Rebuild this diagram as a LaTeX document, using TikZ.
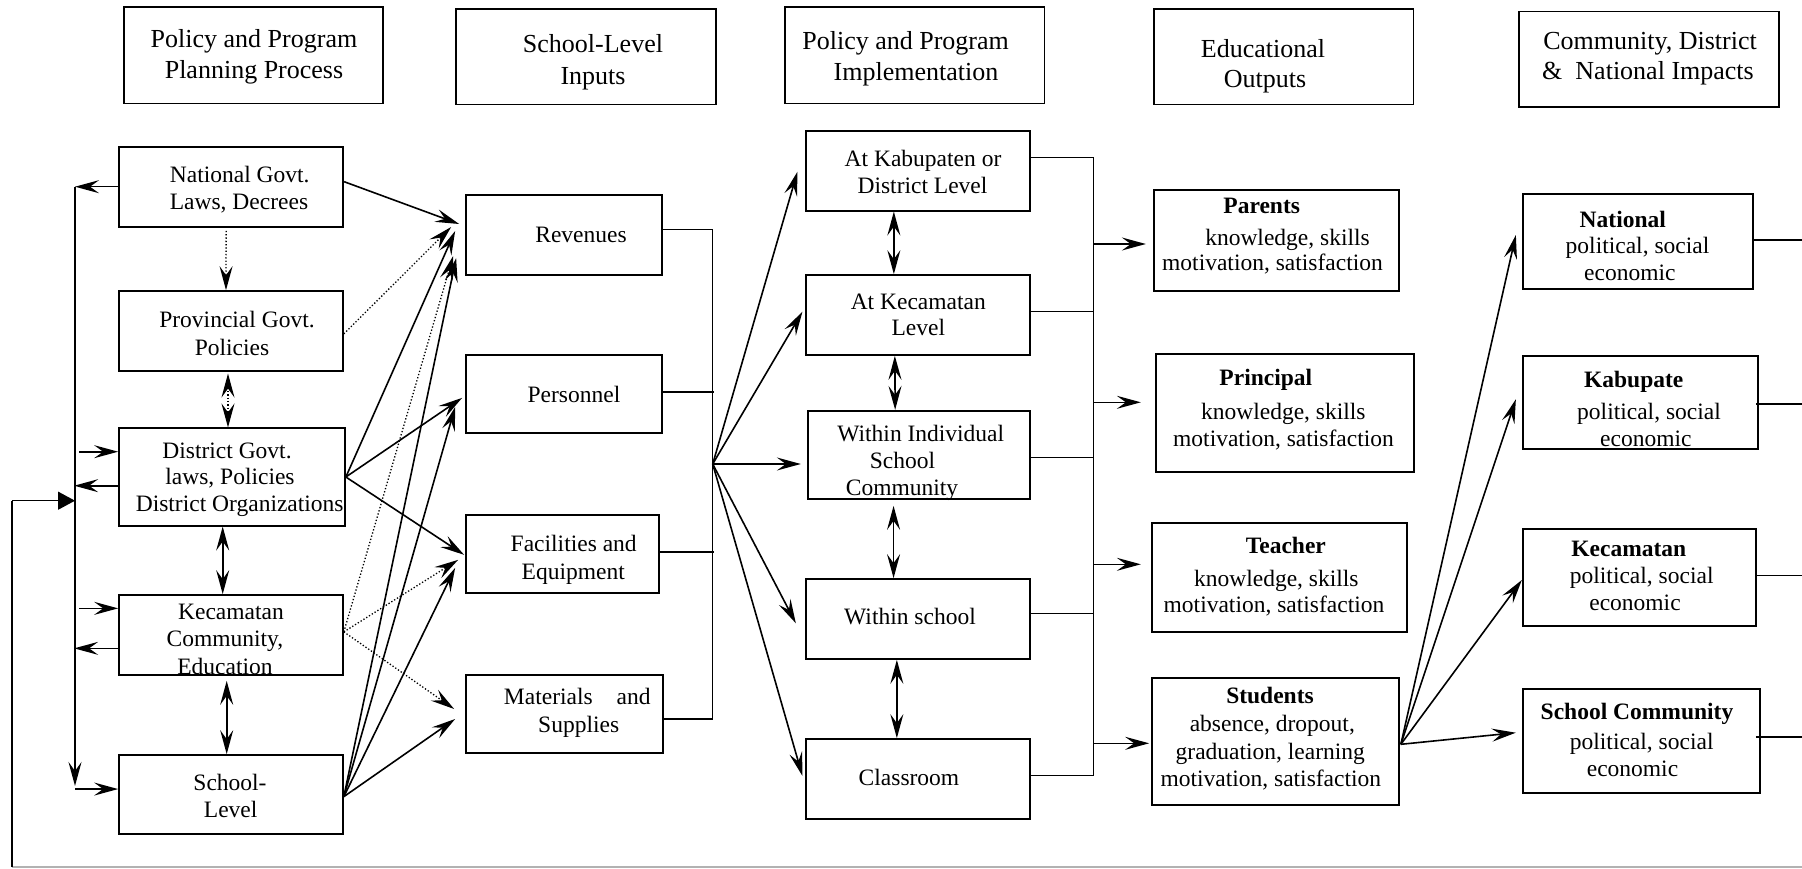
\documentclass[tikz,border=0pt]{standalone}
\usepackage{fontspec}
\setmainfont{Liberation Serif}
\usetikzlibrary{arrows.meta,fit,calc}
\newcommand\bodyfont{\fontsize{23.5}{27}\selectfont}
\newcommand\headfont{\fontsize{26}{31}\selectfont}

\begin{document}
\begin{tikzpicture}[x=1pt,y=-1pt,
  >={Stealth[length=24pt,width=13pt,inset=9pt]},
  box/.style={draw, line width=1.7pt, inner sep=0pt},
  ln/.style={anchor=base, inner sep=0pt, font=\bodyfont},
  hd/.style={anchor=base, inner sep=0pt, font=\headfont},
  arr/.style={line width=1.6pt, ->},
  darr/.style={line width=1.6pt, <->},
  dotarr/.style={dotted, line width=1.3pt, ->},
  bus/.style={line width=1.4pt},
  fb/.style={line width=1.4pt},
]
\useasboundingbox (0,0) rectangle (1802,869);

% ---------- column headings ----------
\node[box, fit={(124,7)(383,103.5)}] (h1) {};
\node[hd] (h1a) at (254,47.3) {Policy and Program};
\node[hd] (h1b) at (254,78.3) {Planning Process};
\node[box, fit={(456,9)(716,104.5)}] (h2) {};
\node[hd] (h2a) at (593,52.9) {School-Level};
\node[hd] (h2b) at (593,85) {Inputs};
\node[box, fit={(785,7)(1044.5,103.5)}] (h3) {};
\node[hd] (h3a) at (905.6,49.3) {Policy and Program};
\node[hd] (h3b) at (916,80.3) {Implementation};
\node[box, fit={(1154,9)(1413.5,104.5)}] (h4) {};
\node[hd] (h4a) at (1263,57.3) {Educational};
\node[hd] (h4b) at (1265,87.3) {Outputs};
\node[box, fit={(1519,11.5)(1779,107)}] (h5) {};
\node[hd] (h5a) at (1650,49.3) {Community, District};
\node[hd] (h5b) at (1648,79.3) {\&\ \ National Impacts};

% ---------- planning process ----------
\node[box, fit={(119,146.7)(343.3,226.7)}] (nat) {};
\node[ln] (nat1) at (239.7,183) {National Govt.};
\node[ln] (nat2) at (239,210) {Laws, Decrees};
\node[box, fit={(119,291)(343,370.7)}] (prov) {};
\node[ln] (prov1) at (237,327) {Provincial Govt.};
\node[ln] (prov2) at (232,355) {Policies};
\node[box, fit={(119,428.3)(345,525.7)}] (dist) {};
\node[ln] (dist1) at (227,458) {District Govt.};
\node[ln] (dist2) at (230,484.5) {laws, Policies};
\node[ln] (dist3) at (239.7,511.7) {District Organizations};
\node[box, fit={(119,595)(343,674.7)}] (kec) {};
\node[ln] (kec1) at (231,619) {Kecamatan};
\node[ln] (kec2) at (225,646.7) {Community,};
\node[ln] (kec3) at (225,674) {Education};
\node[box, fit={(119,755)(343,834.3)}] (sch) {};
\node[ln] (sch1) at (230,790) {School-};
\node[ln] (sch2) at (230.7,817) {Level};

% ---------- school-level inputs ----------
\node[box, fit={(466,195)(661.7,275)}] (rev) {};
\node[ln] (rev1) at (581,243) {Revenues};
\node[box, fit={(466,355)(661.7,432.7)}] (pers) {};
\node[ln] (pers1) at (574,402.7) {Personnel};
\node[box, fit={(466,515)(659,592.7)}] (fac) {};
\node[ln] (fac1) at (573.7,551.7) {Facilities and};
\node[ln] (fac2) at (573.3,579) {Equipment};
\node[box, fit={(466,674.7)(663.3,753.3)}] (mat) {};
\node[ln] (mat1) at (577.3,704) {Materials\hspace{24pt}and};
\node[ln] (mat2) at (578.7,732.3) {Supplies};

% ---------- implementation ----------
\node[box, fit={(805.7,131)(1030,210.7)}] (kab) {};
\node[ln] (kab1) at (923,166.7) {At Kabupaten or};
\node[ln] (kab2) at (922.5,193.3) {District Level};
\node[box, fit={(805.7,275)(1030,355)}] (kcl) {};
\node[ln] (kcl1) at (918.3,309) {At Kecamatan};
\node[ln] (kcl2) at (918.3,335) {Level};
\node[box, fit={(808.3,410.7)(1030,499)}] (win) {};
\node[ln] (win1) at (920.8,441.7) {Within Individual};
\node[ln] (win2) at (902.5,468.3) {School};
\node[ln] (win3) at (902,495) {Community};
\node[box, fit={(805.7,579)(1030,659)}] (wsc) {};
\node[ln] (wsc1) at (910,624) {Within school};
\node[box, fit={(805.7,739)(1030,819)}] (cls) {};
\node[ln] (cls1) at (909,785) {Classroom};

% ---------- educational outputs ----------
\node[box, fit={(1154,190)(1399.3,290.7)}] (par) {};
\node[ln] (par1) at (1261.7,213.3) {\textbf{Parents}};
\node[ln] (par2) at (1287.5,245) {knowledge, skills};
\node[ln] (par3) at (1272.5,270) {motivation, satisfaction};
\node[box, fit={(1156,354)(1414,472.3)}] (pri) {};
\node[ln] (pri1) at (1265.8,385) {\textbf{Principal}};
\node[ln] (pri2) at (1283.3,419.3) {knowledge, skills};
\node[ln] (pri3) at (1283.5,446) {motivation, satisfaction};
\node[box, fit={(1151.7,522.7)(1407.3,632.3)}] (tea) {};
\node[ln] (tea1) at (1285.8,553.3) {\textbf{Teacher}};
\node[ln] (tea2) at (1276.3,586) {knowledge, skills};
\node[ln] (tea3) at (1274,612.7) {motivation, satisfaction};
\node[box, fit={(1151.7,678.3)(1399.3,805)}] (stu) {};
\node[ln] (stu1) at (1270,703.3) {\textbf{Students}};
\node[ln] (stu2) at (1272.3,731) {absence, dropout,};
\node[ln] (stu3) at (1270.3,759.3) {graduation, learning};
\node[ln] (stu4) at (1270.8,786) {motivation, satisfaction};

% ---------- impacts ----------
\node[box, fit={(1522.7,194.3)(1753.3,289)}] (nal) {};
\node[ln] (nal1) at (1622.8,227.7) {\textbf{National}};
\node[ln] (nal2) at (1637.5,254) {political, social};
\node[ln] (nal3) at (1629.8,280.7) {economic};
\node[box, fit={(1522.7,356)(1758.3,449)}] (kbp) {};
\node[ln] (kbp1) at (1633.7,387.7) {\textbf{Kabupate}};
\node[ln] (kbp2) at (1649,419.3) {political, social};
\node[ln] (kbp3) at (1645.8,446.7) {economic};
\node[box, fit={(1522.7,529)(1756,626)}] (kcm) {};
\node[ln] (kcm1) at (1628.8,556.7) {\textbf{Kecamatan}};
\node[ln] (kcm2) at (1641.7,583.3) {political, social};
\node[ln] (kcm3) at (1635,610) {economic};
\node[box, fit={(1522.7,689)(1760,792.7)}] (scm) {};
\node[ln] (scm1) at (1637,719) {\textbf{School Community}};
\node[ln] (scm2) at (1641.7,749.3) {political, social};
\node[ln] (scm3) at (1632.5,776.7) {economic};

% ---------- left feedback bus ----------
\coordinate (busT) at (75,186.7);
\coordinate (busB) at (75,786);
\coordinate (fbL) at (12,500.7);
\coordinate (fbC) at (12,867);
\coordinate (fbR) at (1802,867);
\draw[arr] (nat.west) -- (busT);
\draw[arr] (busT) -- (busB);
\draw[arr] ($(dist.west)+(-39,-25.3)$) -- ($(dist.west)+(0,-25.3)$);
\draw[arr] ($(dist.west)+(0,8.7)$) -- ($(dist.west)+(-44,8.7)$);
\draw[arr] ($(kec.west)+(-39,-26.5)$) -- ($(kec.west)+(0,-26.5)$);
\draw[arr] ($(kec.west)+(0,13.5)$) -- ($(kec.west)+(-44,13.5)$);
\draw[arr] ($(sch.west)+(-43,-5.6)$) -- ($(sch.west)+(0,-5.6)$);
\draw[fb, gray!60] (fbR) -- (fbC);
\draw[fb] (fbC) -- (fbL);
\draw[fb, -{Triangle[length=17pt,width=18pt]}] (fbL) -- (busT |- fbL);

% ---------- links inside the planning column ----------
\draw[dotarr] ($(nat.south)+(-5,3.3)$) -- ($(prov.north)+(-5,0)$);
\draw[dotted, line width=1.3pt, <->] ($(prov.south)+(-3,2)$) -- ($(dist.north)+(-4,0)$);
\draw[darr] ($(dist.south)+(-9.3,0)$) -- ($(kec.north)+(-8.3,0)$);
\draw[darr] ($(kec.south)+(-4.3,5.3)$) -- ($(sch.north)+(-4.3,0)$);

% ---------- planning -> inputs ----------
\draw[arr] ($(nat.east)+(0,-5)$) -- ($(rev.west)+(-6,-11)$);
\draw[dotarr] ($(prov.east)+(0,3)$) -- ($(rev.west)+(-14,-8)$);
\draw[arr] (dist.east) -- ($(rev.west)+(-10,-4)$);
\draw[arr] (dist.east) -- ($(pers.west)+(-3,4)$);
\draw[arr] (dist.east) -- ($(fac.west)+(-1,1)$);
\draw[dotarr] ($(kec.east)+(0,-3)$) -- ($(rev.west)+(-12,21)$);
\draw[dotarr] ($(kec.east)+(0,-3)$) -- ($(fac.west)+(-7,6)$);
\draw[dotarr] ($(kec.east)+(0,-3)$) -- ($(mat.west)+(-11,-5)$);
\draw[arr] ($(sch.east)+(0,2)$) -- ($(rev.west)+(-9,23)$);
\draw[arr] ($(sch.east)+(0,2)$) -- ($(pers.west)+(-10,13)$);
\draw[arr] ($(sch.east)+(0,2)$) -- ($(fac.west)+(-10,14)$);
\draw[arr] ($(sch.east)+(0,2)$) -- ($(mat.west)+(-10,5)$);

% ---------- inputs -> implementation ----------
\coordinate (ibF) at (712.7,464);
\draw[bus] ($(rev.east)+(0,-5.7)$) -| (712.7,719) -- ($(mat.east)+(0,5)$);
\draw[bus] ($(pers.east)+(0,-2)$) -- ++(51,0);
\draw[bus] ($(fac.east)+(0,-2)$) -- ++(53.7,0);
\draw[arr] (ibF) -- ($(kab.west)+(-7.4,0.85)$);
\draw[arr] (ibF) -- ($(kcl.west)+(-2.4,-3.3)$);
\draw[arr] (ibF) -- ($(win.west)+(-6.6,9.15)$);
\draw[arr] (ibF) -- ($(wsc.west)+(-9,4.3)$);
\draw[arr] (ibF) -- ($(cls.west)+(-2.4,-3)$);

% ---------- links inside the implementation column ----------
\draw[darr] ($(kab.south)+(-24,0)$) -- ($(kcl.north)+(-24,0)$);
\draw[darr] ($(kcl.south)+(-23,0)$) -- ($(win.north)+(-24,0)$);
\draw[darr] ($(win.south)+(-25.6,6)$) -- ($(wsc.north)+(-24.3,0)$);
\draw[darr] ($(wsc.south)+(-21,0)$) -- ($(cls.north)+(-21,0)$);

% ---------- implementation -> outputs ----------
\coordinate (obT) at (1093.3,157.7);
\draw[bus] ($(kab.east)+(0,-13.15)$) -| (1093.3,775.7) -- ($(cls.east)+(0,-3.3)$);
\draw[bus] ($(kcl.east)+(0,-3.7)$) -- ++(63.3,0);
\draw[bus] ($(win.east)+(0,2.85)$) -- ++(63.3,0);
\draw[bus] ($(wsc.east)+(0,-5.7)$) -- ++(63.3,0);
\coordinate (parIn) at ($(par.west)+(-7.3,3.65)$);
\coordinate (priIn) at ($(pri.west)+(-14.3,-10.85)$);
\coordinate (teaIn) at ($(tea.west)+(-10,-13.2)$);
\coordinate (stuIn) at ($(stu.west)+(-1.7,1.65)$);
\draw[arr] (obT |- parIn) -- (parIn);
\draw[arr] (obT |- priIn) -- (priIn);
\draw[arr] (obT |- teaIn) -- (teaIn);
\draw[arr] (obT |- stuIn) -- (stuIn);

% ---------- students -> impacts ----------
\coordinate (stuOut) at ($(stu.east)+(0.7,2.65)$);
\draw[arr] (stuOut) -- ($(nal.west)+(-6,-6.65)$);
\draw[arr] (stuOut) -- ($(kbp.west)+(-6,-3.2)$);
\draw[arr] (stuOut) -- ($(kcm.west)+(0,2.5)$);
\draw[arr] (stuOut) -- ($(scm.west)+(-6,-8.15)$);

% ---------- impacts -> feedback ----------
\draw[bus] ($(nal.east)+(0,-1.65)$) -- ++(48.7,0);
\draw[bus] ($(kbp.east)+(-3,1.5)$) -- ++(46.7,0);
\draw[bus] ($(kcm.east)+(0,-1.8)$) -- ++(46,0);
\draw[bus] ($(scm.east)+(-5,-3.85)$) -- ++(47,0);
\end{tikzpicture}
\end{document}
